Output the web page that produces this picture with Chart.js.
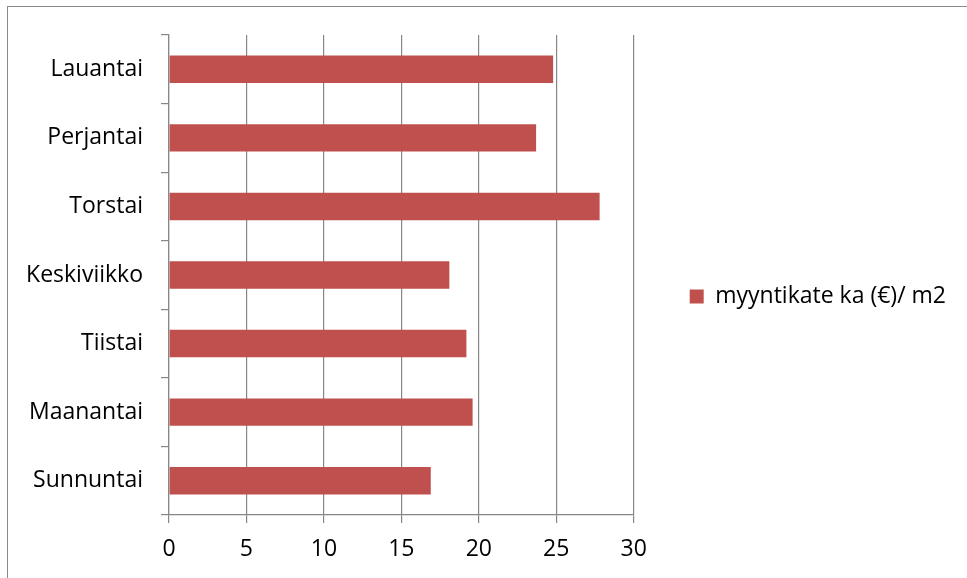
<!DOCTYPE html>
<html>
<head>
<meta charset="utf-8">
<script src="https://cdn.jsdelivr.net/npm/chart.js@4/dist/chart.umd.min.js"></script>
<style>
  html, body { margin: 0; padding: 0; background: #ffffff; overflow: hidden; }
  #wrap { position: relative; width: 967px; height: 578px; }
  #frame { position: absolute; left: 7px; top: 6px; width: 1000px; height: 600px;
           border-left: 1.5px solid #8a8a8a; border-top: 1.5px solid #8a8a8a; }
  canvas { position: absolute; left: 0; top: 0; }
</style>
</head>
<body>
<div id="wrap">
  <div id="frame"></div>
  <canvas id="c" width="967" height="578"></canvas>
</div>
<script>
// Weekdays, Sunday first (drawn bottom to top)
const days = ["Sunnuntai", "Maanantai", "Tiistai", "Keskiviikko", "Torstai", "Perjantai", "Lauantai"];
// Average sales margin per square metre (€)
const margin = [16.9, 19.6, 19.2, 18.1, 27.8, 23.7, 24.8];
const seriesName = "myyntikate ka (€)/ m2";
const xTicks = [0, 5, 10, 15, 20, 25, 30];

const FONT = "'Open Sans', Lato, sans-serif";
const FONT_SIZE = 23;
const axisGray = "#878787";

// nudge the legend up a little so it sits level with the middle of the plot
const legendLift = {
  id: "legendLift",
  afterLayout(chart) {
    if (chart.legend) {
      chart.legend.top -= 10;
      chart.legend.bottom -= 10;
    }
  }
};

function draw() {
  new Chart(document.getElementById("c"), {
    type: "bar",
    data: {
      labels: days,
      datasets: [{
        label: seriesName,
        data: margin,
        backgroundColor: "#C0504D",
        borderWidth: 0,
        barPercentage: 0.4,
        categoryPercentage: 1.0
      }]
    },
    options: {
      indexAxis: "y",
      responsive: false,
      animation: false,
      layout: { padding: { top: 35, right: 11, bottom: 0, left: 0 } },
      plugins: {
        tooltip: { enabled: false },
        legend: {
          position: "right",
          maxWidth: 500,
          labels: {
            font: { family: FONT, size: FONT_SIZE },
            color: "#000000",
            boxWidth: 14,
            boxHeight: 14,
            padding: 56
          }
        }
      },
      scales: {
        x: {
          min: 0,
          max: 30,
          afterBuildTicks: (s) => { s.ticks = xTicks.map(v => ({ value: v })); },
          afterFit: (s) => { s.height = 63; },
          grid: {
            color: axisGray,
            lineWidth: 1.2,
            tickLength: 8,
            tickColor: axisGray
          },
          border: { color: axisGray, width: 1.2 },
          ticks: {
            font: { family: FONT, size: FONT_SIZE },
            color: "#000000",
            padding: 13,
            maxRotation: 0
          }
        },
        y: {
          reverse: true,
          afterFit: (s) => { s.width = 169; },
          grid: {
            offset: true,
            drawOnChartArea: false,
            tickLength: 8,
            tickColor: axisGray,
            lineWidth: 1.2
          },
          border: { color: axisGray, width: 1.2 },
          ticks: {
            font: { family: FONT, size: FONT_SIZE },
            color: "#000000",
            padding: 18
          }
        }
      }
    },
    plugins: [legendLift]
  });
}

// make sure the font is ready before text is measured
if (document.fonts && document.fonts.load) {
  document.fonts.load(FONT_SIZE + "px 'Open Sans'").then(draw, draw);
} else {
  draw();
}
</script>
</body>
</html>
